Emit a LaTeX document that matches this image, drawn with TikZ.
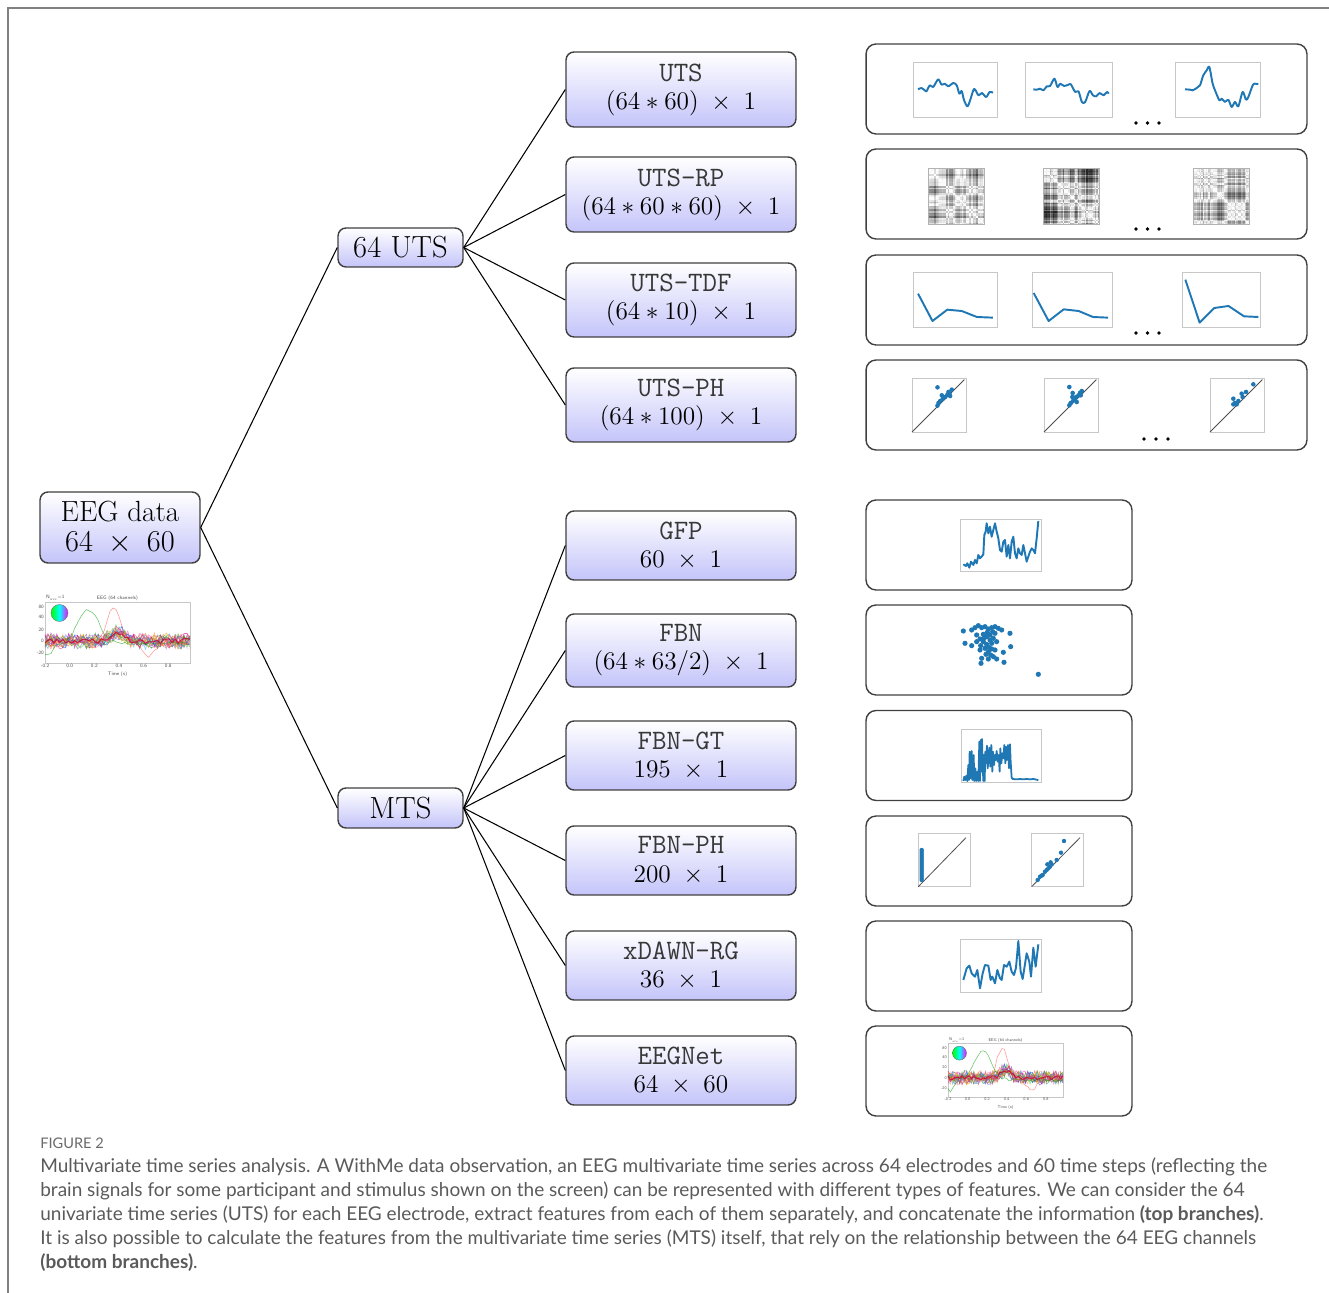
\documentclass[tikz,border=0pt]{standalone}
\usepackage{fontspec}
\newfontfamily\capfont{Lato}
\definecolor{mplblue}{RGB}{31,119,180}
\definecolor{framegray}{RGB}{128,128,128}
\definecolor{capgray}{RGB}{90,90,90}
\definecolor{figgray}{RGB}{105,105,105}
\definecolor{boxbottom}{RGB}{196,196,250}
\newcommand\ftt[1]{{\fontsize{16}{16}\selectfont\ttfamily\addfontfeatures{LetterSpace=6}\color{black!78}#1}}
\tikzset{
 feat/.style={draw=black!75, line width=0.8pt, rounded corners=0.16cm, top color=white, bottom color=boxbottom, align=center, inner sep=0pt, font=\fontsize{15.5}{16}\selectfont},
 rootbox/.style={feat, font=\fontsize{16.6}{17.5}\selectfont},
 midbox/.style={feat, font=\fontsize{17.4}{18}\selectfont},
 panel/.style={draw=black!75, line width=0.8pt, rounded corners=0.2cm, inner sep=0pt},
 conn/.style={draw=black, line width=0.6pt},
 axbox/.style={draw=black!22, line width=0.3pt},
 curve/.style={mplblue, line width=1.1pt, line join=round},
 diagline/.style={draw=black!70, line width=0.45pt},
 captext/.style={anchor=base west, inner sep=0pt, text=capgray, font=\capfont\fontsize{10.82}{12}\selectfont},
}
\newcommand\rpplot[4]{%
 \pgfmathsetseed{#4}%
 \gdef\rpcur{0}%
 \foreach \i in {0,...,39}{\pgfmathsetmacro\rptmp{0.85*\rpcur+rand*0.45}\xdef\rpcur{\rptmp}\pgfmathsetmacro\rpval{\rptmp+0.3*rand}\expandafter\xdef\csname rps\i\endcsname{\rpval}}%
 \begin{scope}[shift={(#1,#2)}]
 \foreach \i in {0,...,39}{\foreach \j in {0,...,39}{%
   \edef\rpa{\csname rps\i\endcsname}\edef\rpb{\csname rps\j\endcsname}%
   \pgfmathtruncatemacro\rpd{min(85,abs(\rpa-\rpb)*48)}%
   \fill[black!\rpd] (\i*#3/40,\j*#3/40) rectangle ++(#3/40+0.2,#3/40+0.2);}}
 \draw[black!30,line width=0.3pt] (0,0) rectangle (#3,#3);
 \end{scope}}
\newcommand\eegplot[3]{% #1 head radius, #2 font size, #3 seed
 \draw[axbox] (0,0) rectangle (1,1);
 \pgfmathsetseed{#3}
 \foreach \c in {red,green!70!black,blue,magenta,cyan,orange,violet,pink,teal,olive,purple,brown,red!60,blue!60,green!50!black,magenta!60,cyan!60!blue,orange!70!red,lime!70!black,blue!40!cyan,red!40!magenta,yellow!70!orange}
  \draw[\c, opacity=0.5, line width=0.3pt] plot[domain=0:1, samples=50] (\x,{0.36+0.14*exp(-((\x-0.5)^2)/0.004)+0.06*sin(\x*700+rnd*360)+0.08*rand});
 \draw[green!60!black, opacity=0.6, line width=0.3pt] plot[domain=0:1, samples=50] (\x,{0.32+0.55*exp(-((\x-0.3)^2)/0.01)-0.2*exp(-((\x-0.02)^2)/0.002)+0.03*rand});
 \draw[red!70!white, opacity=0.6, line width=0.3pt] plot[domain=0:1, samples=50] (\x,{0.34+0.58*exp(-((\x-0.47)^2)/0.004)-0.22*exp(-((\x-0.72)^2)/0.004)+0.04*rand});
 \draw[purple!80!red, opacity=0.8, line width=0.6pt] plot[domain=0:1, samples=50] (\x,{0.36+0.14*exp(-((\x-0.5)^2)/0.003)+0.04*rand});
 \shade[left color=green, right color=magenta, middle color=cyan] (0.1,0.82) circle (#1);
 \draw[black!60, line width=0.2pt] (0.1,0.82) circle (#1);
 \begin{scope}[font=\sffamily\fontsize{#2}{#2}\selectfont, text=black!70]
 \node[anchor=south, inner sep=0.5pt] at (0.5,1) {EEG (64 channels)};
 \node[anchor=south west, inner sep=0.5pt] at (0,1) {N$_{\mathrm{ave}}$=1};
 \foreach \p/\t in {0/-0.2,0.17/0.0,0.34/0.2,0.51/0.4,0.68/0.6,0.85/0.8}
   \node[anchor=north, inner sep=0.5pt] at (\p,0) {\t};
 \foreach \p/\t in {0.92/80,0.75/40,0.55/20,0.36/0,0.17/-20}
   \node[anchor=east, inner sep=0.5pt] at (0,\p) {\t};
 \node[anchor=north, inner sep=0.5pt] at (0.5,-0.13) {Time (s)};
 \end{scope}}
\begin{document}
\begin{tikzpicture}[x=0.02cm,y=-0.02cm]
\useasboundingbox (0,0) rectangle (1329,1293);
\draw[framegray, line width=1.1pt] (8,1293) -- (8,8) -- (1329,8);

% ---------- tree nodes
\node[rootbox, minimum width=3.2cm, minimum height=1.42cm] (eeg) at (120,527.5) {EEG data\\$64\;\times\;60$};
\node[midbox, minimum width=2.5cm, minimum height=0.78cm] (uts) at (400.5,247.5) {64 UTS};
\node[midbox, minimum width=2.5cm, minimum height=0.8cm] (mts) at (400.5,808) {MTS};

\node[feat, minimum width=4.6cm, minimum height=1.5cm] (r1) at (681,89.5) {\ftt{UTS}\\$(64*60)\;\times\;1$};
\node[feat, minimum width=4.6cm, minimum height=1.5cm] (r2) at (681,194.5) {\ftt{UTS-RP}\\$(64*60*60)\;\times\;1$};
\node[feat, minimum width=4.6cm, minimum height=1.48cm] (r3) at (681,300) {\ftt{UTS-TDF}\\$(64*10)\;\times\;1$};
\node[feat, minimum width=4.6cm, minimum height=1.48cm] (r4) at (681,405) {\ftt{UTS-PH}\\$(64*100)\;\times\;1$};

\node[feat, minimum width=4.6cm, minimum height=1.38cm] (m1) at (681,545.5) {\ftt{GFP}\\$60\;\times\;1$};
\node[feat, minimum width=4.6cm, minimum height=1.46cm] (m2) at (681,650.5) {\ftt{FBN}\\$(64*63/2)\;\times\;1$};
\node[feat, minimum width=4.6cm, minimum height=1.38cm] (m3) at (681,755.5) {\ftt{FBN-GT}\\$195\;\times\;1$};
\node[feat, minimum width=4.6cm, minimum height=1.38cm] (m4) at (681,860.5) {\ftt{FBN-PH}\\$200\;\times\;1$};
\node[feat, minimum width=4.6cm, minimum height=1.38cm] (m5) at (681,965.5) {\ftt{xDAWN-RG}\\$36\;\times\;1$};
\node[feat, minimum width=4.6cm, minimum height=1.38cm] (m6) at (681,1070.5) {\ftt{EEGNet}\\$64\;\times\;60$};

% ---------- connectors
\draw[conn] (eeg.east) -- (uts.west);
\draw[conn] (eeg.east) -- (mts.west);
\foreach \n in {r1,r2,r3,r4} \draw[conn] (uts.east) -- (\n.west);
\foreach \n in {m1,m2,m3,m4,m5,m6} \draw[conn] (mts.east) -- (\n.west);

% ---------- panels
\node[panel, minimum width=8.82cm, minimum height=1.8cm] (p1) at (1086.5,89) {};
\node[panel, minimum width=8.82cm, minimum height=1.8cm] (p2) at (1086.5,194) {};
\node[panel, minimum width=8.82cm, minimum height=1.8cm] (p3) at (1086.5,300) {};
\node[panel, minimum width=8.82cm, minimum height=1.8cm] (p4) at (1086.5,405) {};
\node[panel, minimum width=5.32cm, minimum height=1.8cm] (p5) at (999,545) {};
\node[panel, minimum width=5.32cm, minimum height=1.8cm] (p6) at (999,650) {};
\node[panel, minimum width=5.32cm, minimum height=1.8cm] (p7) at (999,755.5) {};
\node[panel, minimum width=5.32cm, minimum height=1.8cm] (p8) at (999,861) {};
\node[panel, minimum width=5.32cm, minimum height=1.8cm] (p9) at (999,966) {};
\node[panel, minimum width=5.32cm, minimum height=1.8cm] (p10) at (999,1071) {};

% ellipsis dots
\foreach \yy in {123,229,333} \foreach \xx in {1136,1147.5,1159} \fill (\xx,\yy) circle (0.036cm);
\foreach \xx in {1144,1156,1168} \fill (\xx,439) circle (0.036cm);

% ---------- UTS line plots
\begin{scope}[shift={(913,117)}, x=1.68cm, y=1.1cm]
 \draw[axbox] (0,0) rectangle (1,1);
 \draw[curve] plot[smooth, tension=0.5] coordinates {(0.06,0.503)(0.10,0.527)(0.14,0.485)(0.16,0.467)(0.20,0.576)(0.24,0.545)(0.30,0.685)(0.34,0.588)(0.38,0.606)(0.42,0.558)(0.48,0.618)(0.52,0.576)(0.552,0.424)(0.58,0.473)(0.608,0.303)(0.648,0.194)(0.68,0.303)(0.728,0.509)(0.78,0.394)(0.82,0.436)(0.872,0.364)(0.912,0.455)(0.952,0.442)};
\end{scope}
\begin{scope}[shift={(1025,117)}, x=1.74cm, y=1.1cm]
 \draw[axbox] (0,0) rectangle (1,1);
 \draw[curve] plot[smooth, tension=0.5] coordinates {(0.096,0.503)(0.135,0.497)(0.173,0.515)(0.212,0.485)(0.25,0.558)(0.288,0.564)(0.338,0.697)(0.373,0.545)(0.404,0.606)(0.45,0.564)(0.5,0.588)(0.527,0.594)(0.577,0.455)(0.615,0.467)(0.654,0.273)(0.692,0.273)(0.742,0.473)(0.781,0.394)(0.819,0.376)(0.858,0.436)(0.904,0.394)(0.942,0.455)(0.962,0.424)};
\end{scope}
\begin{scope}[shift={(1175,117)}, x=1.7cm, y=1.1cm]
 \draw[axbox] (0,0) rectangle (1,1);
 \draw[curve] plot[smooth, tension=0.5] coordinates {(0.118,0.503)(0.176,0.497)(0.208,0.485)(0.255,0.527)(0.294,0.576)(0.333,0.758)(0.373,0.848)(0.404,0.909)(0.443,0.606)(0.471,0.485)(0.522,0.303)(0.549,0.333)(0.588,0.273)(0.627,0.315)(0.667,0.182)(0.706,0.273)(0.745,0.194)(0.796,0.455)(0.835,0.315)(0.863,0.364)(0.914,0.576)(0.941,0.606)(0.98,0.594)};
\end{scope}

% ---------- UTS-RP recurrence plots
\rpplot{928}{168}{56}{11}
\rpplot{1043}{168}{56}{23}
\rpplot{1193}{168}{56}{37}

% ---------- UTS-TDF plots
\begin{scope}[shift={(913,327)}, x=1.68cm, y=1.1cm]
 \draw[axbox] (0,0) rectangle (1,1);
 \draw[curve] (0.06,0.606) -- (0.232,0.109) -- (0.408,0.315) -- (0.58,0.291) -- (0.76,0.182) -- (0.952,0.170);
\end{scope}
\begin{scope}[shift={(1032,327)}, x=1.6cm, y=1.1cm]
 \draw[axbox] (0,0) rectangle (1,1);
 \draw[curve] (0.021,0.618) -- (0.208,0.109) -- (0.396,0.321) -- (0.583,0.291) -- (0.762,0.182) -- (0.95,0.170);
\end{scope}
\begin{scope}[shift={(1182,327)}, x=1.56cm, y=1.1cm]
 \draw[axbox] (0,0) rectangle (1,1);
 \draw[curve] (0.043,0.861) -- (0.226,0.079) -- (0.413,0.345) -- (0.596,0.382) -- (0.796,0.194) -- (0.979,0.182);
\end{scope}

% ---------- UTS-PH persistence diagrams
\begin{scope}[shift={(912,432)}, x=1.08cm, y=1.08cm]
 \draw[axbox] (0,0) rectangle (1,1);
 \draw[diagline] (0,0) -- (0.97,0.97);
 \foreach \a/\b in {0.472/0.827,0.552/0.679,0.675/0.741,0.736/0.784,0.656/0.691,0.613/0.648,0.571/0.617,0.522/0.574,0.491/0.537,0.472/0.488,0.693/0.710,0.706/0.667}
  \fill[mplblue] (\a,\b) circle (0.046cm);
\end{scope}
\begin{scope}[shift={(1044,432)}, x=1.08cm, y=1.08cm]
 \draw[axbox] (0,0) rectangle (1,1);
 \draw[diagline] (0,0) -- (0.97,0.97);
 \foreach \a/\b in {0.469/0.833,0.531/0.722,0.594/0.648,0.544/0.586,0.494/0.537,0.469/0.494,0.575/0.617,0.638/0.679,0.669/0.728,0.7/0.759,0.606/0.556,0.525/0.648,0.681/0.679}
  \fill[mplblue] (\a,\b) circle (0.046cm);
\end{scope}
\begin{scope}[shift={(1210,432)}, x=1.08cm, y=1.08cm]
 \draw[axbox] (0,0) rectangle (1,1);
 \draw[diagline] (0,0) -- (0.97,0.97);
 \foreach \a/\b in {0.802/0.883,0.667/0.741,0.586/0.710,0.525/0.574,0.432/0.617,0.463/0.537,0.494/0.512,0.605/0.648,0.432/0.512}
  \fill[mplblue] (\a,\b) circle (0.046cm);
\end{scope}

% ---------- GFP and FBN (zoom coordinates)
\begin{scope}[shift={(860,495)}, x=0.006667cm, y=-0.006667cm]
 \draw[axbox] (300,72) rectangle (545,230);
 \draw[curve] (310,208) -- (318,213) -- (322,205) -- (328,218) -- (333,200) -- (340,210) -- (345,195) -- (350,205) -- (355,180) -- (360,190) -- (365,185) -- (370,178) -- (373,120) -- (377,110) -- (380,85) -- (385,115) -- (390,95) -- (395,125) -- (400,105) -- (405,85) -- (410,110) -- (415,130) -- (420,165) -- (425,170) -- (430,140) -- (435,135) -- (440,185) -- (445,150) -- (450,190) -- (455,140) -- (460,125) -- (465,175) -- (470,190) -- (475,160) -- (480,175) -- (485,180) -- (490,150) -- (495,175) -- (500,200) -- (505,185) -- (510,170) -- (515,160) -- (520,165) -- (525,175) -- (530,130) -- (535,78);
 \foreach \a/\b in {310/408,335/405,345/398,355/392,365/398,375/395,385/402,395/398,405/395,415/400,425/405,450/415,315/445,335/452,350/440,360/432,370/440,380/448,390/435,400/430,410/440,360/465,375/460,385/470,395/462,405/465,430/472,452/455,365/490,385/492,400/485,410/492,432/502,363/505,350/420,370/418,390/420,405/415,380/425,395/445,362/452,372/430,382/412,398/410,388/458,378/478,392/480,535/538}
  \fill[mplblue] (\a,\b) circle (0.052cm);
\end{scope}

% ---------- FBN-GT and FBN-PH
\begin{scope}[shift={(860,705)}, x=0.006667cm, y=-0.006667cm]
 \draw[axbox] (305,72) rectangle (545,232);
 \draw[curve, line width=1pt] (310,228) -- (313,215) -- (316,225) -- (319,212) -- (322,228) -- (325,180) -- (327,225) -- (329,140) -- (331,220) -- (333,160) -- (335,138) -- (337,225) -- (339,200) -- (341,150) -- (343,228) -- (346,190) -- (349,228) -- (352,200) -- (355,228) -- (358,110) -- (360,228) -- (362,105) -- (364,200) -- (366,102) -- (368,180) -- (370,228) -- (372,150) -- (374,228) -- (376,140) -- (378,175) -- (381,122) -- (383,190) -- (386,160) -- (388,128) -- (391,185) -- (394,120) -- (397,200) -- (399,140) -- (402,180) -- (405,150) -- (407,165) -- (410,138) -- (413,170) -- (416,150) -- (419,200) -- (421,130) -- (424,175) -- (427,145) -- (430,160) -- (433,120) -- (436,175) -- (438,125) -- (441,165) -- (444,120) -- (447,190) -- (450,118) -- (452,170) -- (455,218) -- (458,222) -- (470,223) -- (480,222) -- (490,223) -- (500,222) -- (510,223) -- (520,222) -- (530,224) -- (535,226);
 \draw[axbox] (175,385) rectangle (330,545);
 \draw[diagline] (175,545) -- (318,398);
 \foreach \b in {435,441,447,453,459,465,471,477,483,489,495,501,507,513,519,525}
  \fill[mplblue] (185,\b) circle (0.044cm);
 \draw[axbox] (515,385) rectangle (670,545);
 \draw[diagline] (515,545) -- (660,398);
 \foreach \a/\b in {533/525,540/515,548/510,555/500,560/495,562/478,570/485,575/478,572/472,590/465,603/443,612/408,545/512,565/490}
  \fill[mplblue] (\a,\b) circle (0.044cm);
\end{scope}

% ---------- xDAWN-RG
\begin{scope}[shift={(860,915)}, x=0.006667cm, y=-0.006667cm]
 \draw[axbox] (300,72) rectangle (545,232);
 \draw[curve] (310,195) -- (320,160) -- (328,152) -- (335,175) -- (345,185) -- (352,165) -- (360,220) -- (368,175) -- (375,150) -- (385,152) -- (392,195) -- (397,185) -- (405,205) -- (412,165) -- (420,190) -- (425,195) -- (432,150) -- (440,155) -- (448,140) -- (455,170) -- (462,180) -- (468,158) -- (475,78) -- (482,170) -- (488,192) -- (500,115) -- (508,140) -- (513,185) -- (520,98) -- (527,155) -- (535,88);
\end{scope}

% ---------- EEG plots
\begin{scope}[shift={(45,663)}, x=2.9cm, y=1.22cm]
 \eegplot{0.17cm}{2.8}{5}
\end{scope}
\begin{scope}[shift={(948,1097)}, x=2.3cm, y=1.07cm]
 \eegplot{0.14cm}{2.3}{9}
\end{scope}

% ---------- caption
\node[anchor=base west, inner sep=0pt, text=figgray, font=\capfont\fontsize{8.3}{10}\selectfont] (figlab) at (40,1148) {FIGURE 2};
\node[captext] (c1) at (40,1172) {Multivariate time series analysis. A WithMe data observation, an EEG multivariate time series across 64 electrodes and 60 time steps (reflecting the};
\node[captext] (c2) at (40,1196) {brain signals for some participant and stimulus shown on the screen) can be represented with different types of features. We can consider the 64};
\node[captext] (c3) at (40,1220) {univariate time series (UTS) for each EEG electrode, extract features from each of them separately, and concatenate the information \textbf{(top branches)}.};
\node[captext] (c4) at (40,1244) {It is also possible to calculate the features from the multivariate time series (MTS) itself, that rely on the relationship between the 64 EEG channels};
\node[captext] (c5) at (40,1268) {\textbf{(bottom branches)}.};
\end{tikzpicture}
\end{document}
